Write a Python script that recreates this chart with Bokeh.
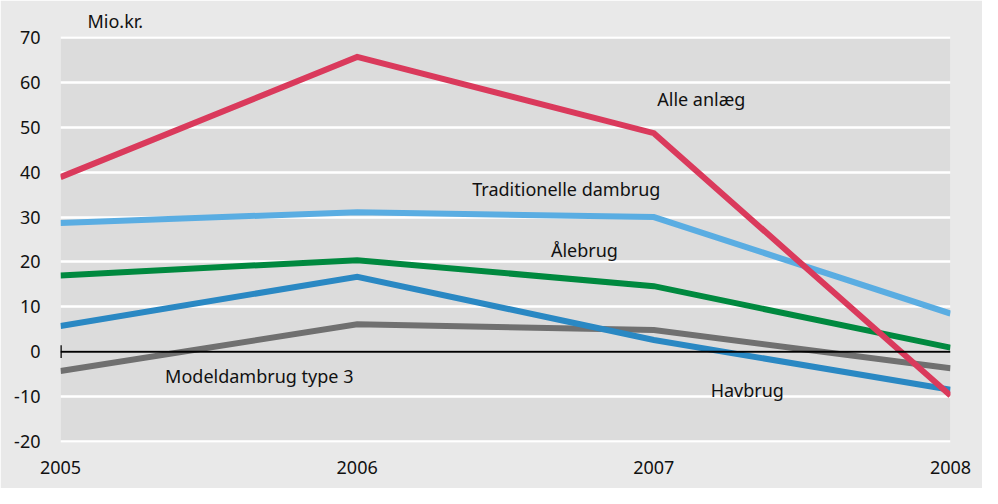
from bokeh.plotting import figure
from bokeh.models import Range1d, FixedTicker, Label, Span, Title
from bokeh.embed import file_html
from bokeh.resources import INLINE

years = [2005, 2006, 2007, 2008]
alle_anlaeg = [38.9, 65.7, 48.7, -9.8]
traditionelle = [28.7, 31.1, 30.0, 8.5]
aalebrug = [17.0, 20.4, 14.6, 0.9]
havbrug = [5.7, 16.7, 2.6, -8.5]
modeldambrug = [-4.3, 6.1, 4.8, -3.7]

y_ticks = [-20, -10, 0, 10, 20, 30, 40, 50, 60, 70]
unit_label = "Mio.kr."

series = [
    ("Alle anlæg", alle_anlaeg, "#da3a5c", 2007.16, 56.3),
    ("Traditionelle dambrug", traditionelle, "#5aade2", 2006.705, 36.3),
    ("Ålebrug", aalebrug, "#00893f", 2006.766, 22.6),
    ("Havbrug", havbrug, "#2a88c3", 2007.315, -8.6),
    ("Modeldambrug type 3", modeldambrug, "#707070", 2005.67, -5.5),
]

FONT = "Noto Sans"
FS = "18px"
OUTER = "#e9e9e9"
INNER = "#dcdcdc"

p = figure(width=982, height=488, output_backend="svg", toolbar_location=None,
           x_range=Range1d(2005, 2008), y_range=Range1d(-20.25, 70.25),
           min_border_left=60, min_border_right=32, min_border_top=36,
           min_border_bottom=46)
p.background_fill_color = INNER
p.border_fill_color = OUTER
p.outline_line_color = None

p.add_layout(Title(text=unit_label, align="left", offset=27, text_font=FONT,
                   text_font_size=FS, text_font_style="normal", text_color="#111111",
                   standoff=8), "above")

p.xgrid.grid_line_color = None
p.ygrid.grid_line_color = "white"
p.ygrid.grid_line_width = 2.5
p.ygrid.ticker = FixedTicker(ticks=y_ticks)

p.yaxis.ticker = FixedTicker(ticks=y_ticks)
p.yaxis.major_label_overrides = {t: str(t) for t in y_ticks}
p.xaxis.ticker = FixedTicker(ticks=years)
for ax in (p.xaxis, p.yaxis):
    ax.axis_line_color = None
    ax.major_tick_line_color = None
    ax.minor_tick_line_color = None
    ax.major_label_text_font = FONT
    ax.major_label_text_font_size = FS
    ax.major_label_text_color = "#111111"
p.yaxis.major_label_standoff = 14
p.xaxis.major_label_standoff = 12

# zero line
p.add_layout(Span(location=0, dimension="width", line_color="black", line_width=2))
p.segment(x0=[years[0]], y0=[-1.4], x1=[years[0]], y1=[1.4], line_color="black", line_width=2.5)

draw_order = [4, 3, 2, 1, 0]
for i in draw_order:
    name, vals, color, lx, ly = series[i]
    p.line(years, vals, line_color=color, line_width=6, line_join="miter")

for name, vals, color, lx, ly in series:
    p.add_layout(Label(x=lx, y=ly, text=name, text_font=FONT, text_font_size=FS,
                       text_align="center", text_baseline="middle", text_color="#111111"))

open("out.html", "w").write(file_html(p, INLINE))
